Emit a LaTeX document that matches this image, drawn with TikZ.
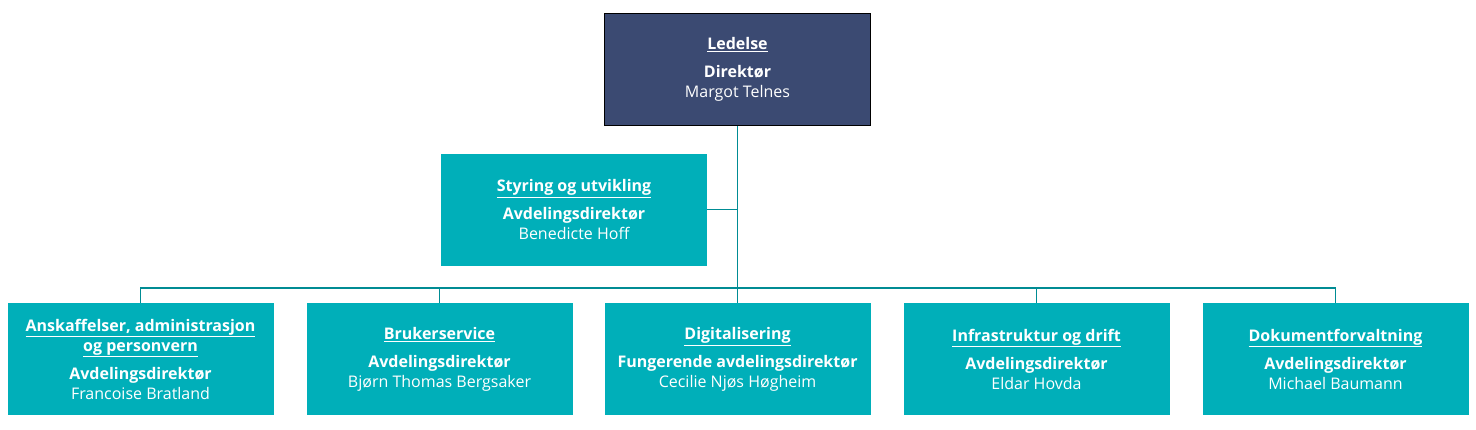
\documentclass[tikz,border=0pt]{standalone}
\usepackage{fontspec}
\setmainfont{Open Sans}
\definecolor{navy}{HTML}{3B4A72}
\definecolor{teal1}{HTML}{00AFB9}
\begin{document}
\begin{tikzpicture}[x=0.75pt,y=-0.75pt,
  box/.style={fill=teal1,draw=none,minimum width=199.5pt,minimum height=84pt,text=white,align=center,font=\fontsize{12}{15}\selectfont,inner sep=0pt},
  topbox/.style={box,fill=navy,draw=black,line width=0.6pt},
  conn/.style={draw=teal1!80!black,line width=0.8pt}]
\useasboundingbox (0,0) rectangle (1476,429);
\node[topbox] (top) at (737.5,69.5) {\underline{\textbf{Ledelse}}\\[6pt]\textbf{Direktør}\\Margot Telnes};
\node[box] (sty) at (574,209.5) {\underline{\textbf{Styring og utvikling}}\\[6pt]\textbf{Avdelingsdirektør}\\Benedicte Hoff};
\node[box] (b1) at (140.5,359) {\underline{\textbf{Anskaffelser, administrasjon}}\\\underline{\textbf{og personvern}}\\[6pt]\textbf{Avdelingsdirektør}\\Francoise Bratland};
\node[box] (b2) at (439.5,359) {\underline{\textbf{Brukerservice}}\\[6pt]\textbf{Avdelingsdirektør}\\Bjørn Thomas Bergsaker};
\node[box] (b3) at (737.5,359) {\underline{\textbf{Digitalisering}}\\[6pt]\textbf{Fungerende avdelingsdirektør}\\Cecilie Njøs Høgheim};
\node[box] (b4) at (1036.5,359) {\underline{\textbf{Infrastruktur og drift}}\\[6pt]\textbf{Avdelingsdirektør}\\Eldar Hovda};
\node[box] (b5) at (1335.5,359) {\underline{\textbf{Dokumentforvaltning}}\\[6pt]\textbf{Avdelingsdirektør}\\Michael Baumann};
\coordinate (bar) at (737.5,288);
\draw[conn] (top.south) -- (b3.north);
\draw[conn] (sty.east) -- (sty.east -| top);
\draw[conn] (b1.north) |- (bar) -| (b5.north);
\draw[conn] (b2.north) -- (b2.north |- bar);
\draw[conn] (b4.north) -- (b4.north |- bar);
\end{tikzpicture}
\end{document}
